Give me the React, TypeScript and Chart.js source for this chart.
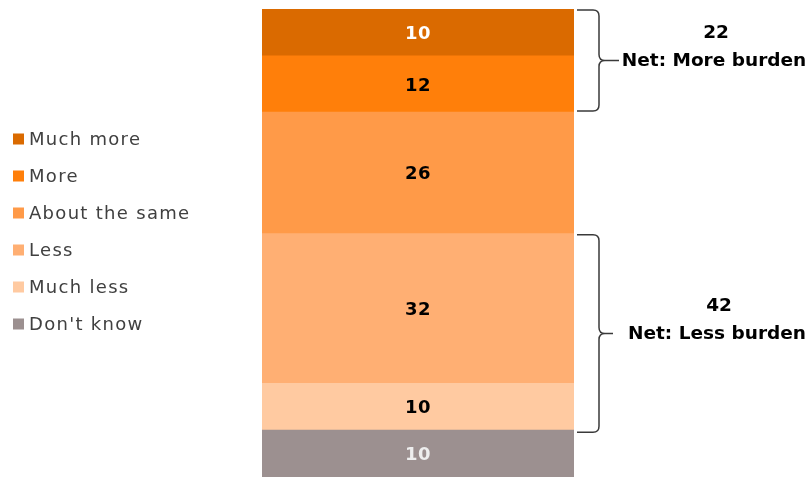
import React, { useEffect, useRef } from "react";
import { Chart, registerables } from "chart.js";

Chart.register(...registerables);

const categories = ["Burden"];
const seriesNames = ["Much more", "More", "About the same", "Less", "Much less", "Don't know"];
const seriesValues = [10, 12, 26, 32, 10, 10];
const seriesColors = ["#DA6A00", "#FF7F0A", "#FF9A48", "#FFAF73", "#FFCAA1", "#9C9090"];
const valueLabelColors = ["#FFFFFF", "#000000", "#000000", "#000000", "#000000", "#EEEEEE"];
const netTitles = ["Net: More burden", "Net: Less burden"];
const netValues = [22, 42];
const netMembers = [["Much more", "More"], ["Less", "Much less"]];

const FONT = "'DejaVu Sans', sans-serif";

function drawBrace(ctx: CanvasRenderingContext2D, x0: number, x1: number, top: number, bottom: number, tipLen: number) {
  const r = 6;
  const mid = (top + bottom) / 2;
  ctx.beginPath();
  ctx.moveTo(x0, top);
  ctx.lineTo(x1 - r, top);
  ctx.quadraticCurveTo(x1, top, x1, top + r);
  ctx.lineTo(x1, mid - r);
  ctx.quadraticCurveTo(x1, mid, x1 + r, mid);
  ctx.lineTo(x1 + tipLen, mid);
  ctx.moveTo(x1 + r, mid);
  ctx.quadraticCurveTo(x1, mid, x1, mid + r);
  ctx.lineTo(x1, bottom - r);
  ctx.quadraticCurveTo(x1, bottom, x1 - r, bottom);
  ctx.lineTo(x0, bottom);
  ctx.stroke();
  return mid;
}

const annotationPlugin = {
  id: "annotations",
  afterDatasetsDraw(chart: any) {
    const ctx: CanvasRenderingContext2D = chart.ctx;
    ctx.save();
    // value labels
    chart.data.datasets.forEach((ds: any, i: number) => {
      const el = chart.getDatasetMeta(i).data[0];
      if (!el) return;
      const cy = (el.y + el.base) / 2;
      ctx.font = `bold 18px ${FONT}`;
      (ctx as any).letterSpacing = "0.5px";
      ctx.fillStyle = ds.labelColor;
      ctx.textAlign = "center";
      ctx.textBaseline = "middle";
      ctx.fillText(String(ds.data[0]), el.x, cy + 2);
    });
    // brackets
    netTitles.forEach((title, g) => {
      const idx = netMembers[g].map((name) => chart.data.datasets.findIndex((d: any) => d.label === name));
      const els = idx.map((i) => chart.getDatasetMeta(i).data[0]);
      const top = Math.min(...els.map((e: any) => e.y));
      const bottom = Math.max(...els.map((e: any) => e.base));
      const right = els[0].x + els[0].width / 2;
      ctx.strokeStyle = "#3A3A3A";
      ctx.lineWidth = 1.5;
      const mid = drawBrace(ctx, right + 3, right + 25, top + 1, bottom + (g === 1 ? 2 : -1), g === 0 ? 20 : 14);
      ctx.fillStyle = "#000000";
      ctx.font = `bold 18.5px ${FONT}`;
      (ctx as any).letterSpacing = "0px";
      ctx.textAlign = "center";
      ctx.textBaseline = "middle";
      const tx = g === 0 ? 714 : 717;
      ctx.fillText(String(netValues[g]), tx + 2, mid - 27);
      ctx.fillText(title, tx, mid + 1);
    });
    // legend
    ctx.font = `18px ${FONT}`;
    (ctx as any).letterSpacing = "1.3px";
    ctx.textAlign = "left";
    ctx.textBaseline = "middle";
    seriesNames.forEach((name, k) => {
      const y = 139 + k * 37;
      ctx.fillStyle = seriesColors[k];
      ctx.fillRect(13, y - 5.5, 11, 11);
      ctx.fillStyle = "#404040";
      ctx.fillText(name, 29, y + 1);
    });
    (ctx as any).letterSpacing = "0px";
    ctx.restore();
  },
};

export default function App() {
  const canvasRef = useRef<HTMLCanvasElement | null>(null);
  useEffect(() => {
    document.body.style.margin = "0";
    const canvas = canvasRef.current;
    if (!canvas) return;
    const order = seriesNames.map((_, i) => i).reverse();
    const chart = new Chart(canvas, {
      type: "bar",
      data: {
        labels: categories,
        datasets: order.map((i) => ({
          label: seriesNames[i],
          data: [seriesValues[i]],
          backgroundColor: seriesColors[i],
          borderWidth: 0,
          barPercentage: 1,
          categoryPercentage: 1,
          labelColor: valueLabelColors[i],
        })) as any,
      },
      options: {
        animation: false,
        responsive: false,
        maintainAspectRatio: false,
        layout: { padding: { left: 262, right: 235, top: 9, bottom: 0 } },
        scales: {
          x: { stacked: true, display: false },
          y: { stacked: true, display: false, min: 0, max: 100 },
        },
        plugins: { legend: { display: false }, tooltip: { enabled: false } },
      },
      plugins: [annotationPlugin],
    });
    return () => chart.destroy();
  }, []);
  return (
    <div style={{ position: "absolute", left: 0, top: 0, width: 809, height: 477, background: "#fff" }}>
      <canvas ref={canvasRef} width={809} height={477} style={{ width: 809, height: 477, display: "block" }} />
    </div>
  );
}
